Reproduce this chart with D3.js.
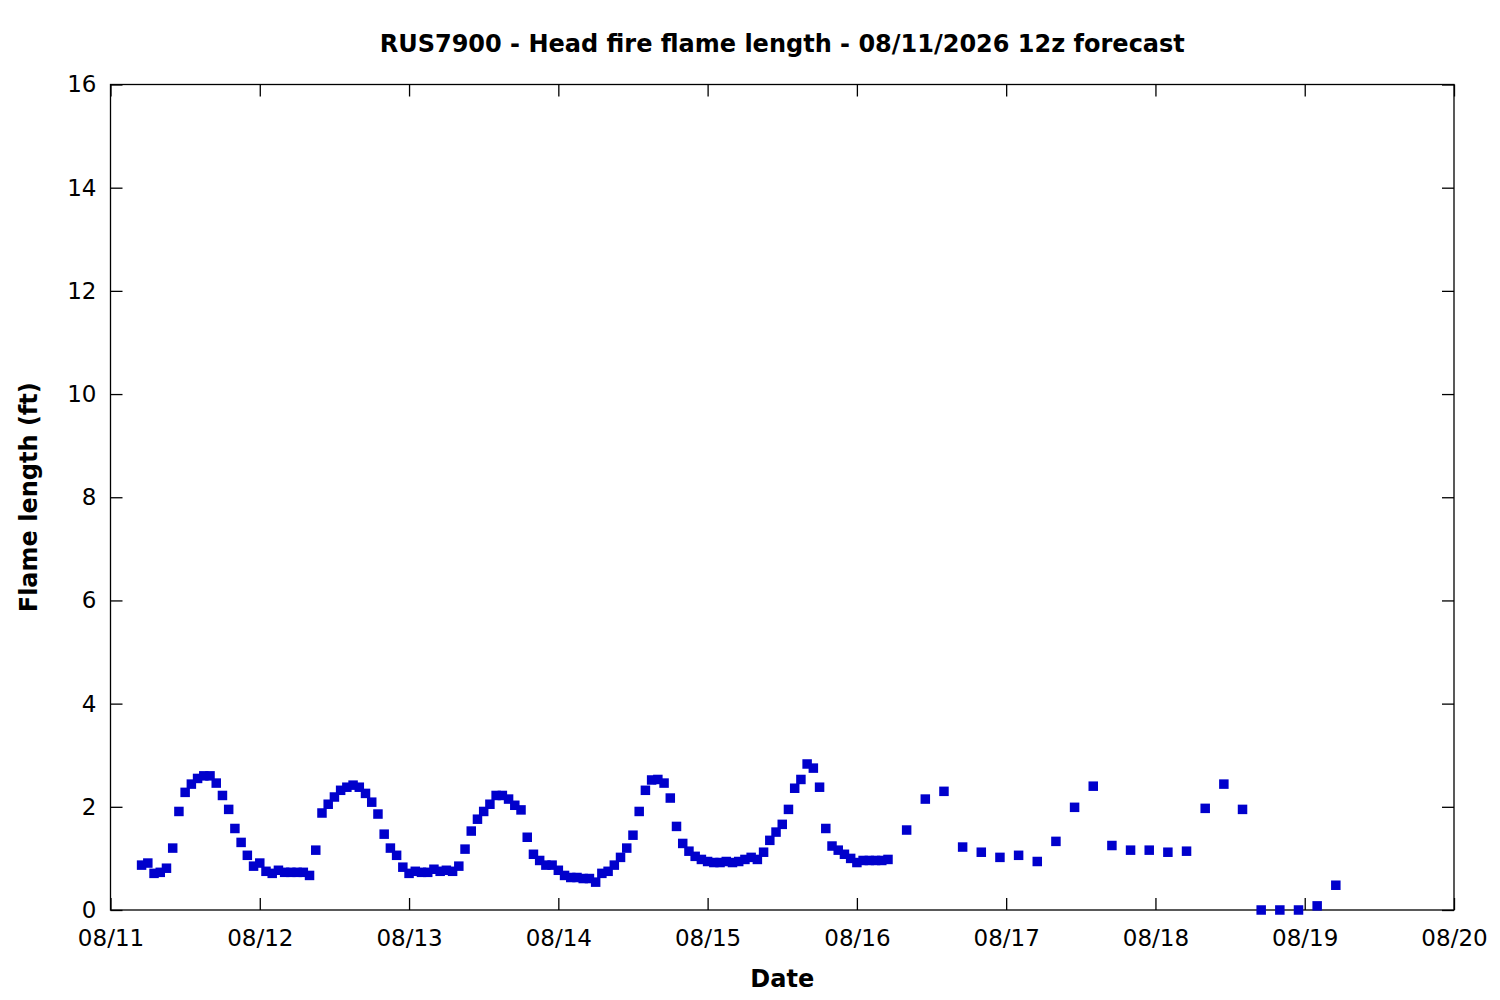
<!DOCTYPE html>
<html>
<head>
<meta charset="utf-8">
<script src="https://cdn.jsdelivr.net/npm/d3@7"></script>
<style>
  html, body { margin: 0; padding: 0; background: #fff; }
  svg { display: block; }
  text { font-family: "DejaVu Sans", sans-serif; fill: #000; }
</style>
</head>
<body>
<svg id="chart" width="1500" height="1000"></svg>
<script>
// ---- data ----
const titleText = "RUS7900 - Head fire flame length - 08/11/2026 12z forecast";
const xLabel = "Date";
const yLabel = "Flame length (ft)";

// hourly forecast, first point 08/11 05:00
const hourlyStart = "2026-08-11T05:00:00Z";
const hourlyValues = [
  0.87, 0.91, 0.71, 0.73, 0.81, 1.20, 1.91, 2.28, 2.44, 2.55,
  2.60, 2.60, 2.46, 2.22, 1.95, 1.58, 1.31, 1.06, 0.85, 0.91,
  0.75, 0.71, 0.77, 0.73, 0.73, 0.73, 0.73, 0.67, 1.16, 1.88,
  2.05, 2.19, 2.32, 2.38, 2.42, 2.38, 2.26, 2.09, 1.86, 1.47,
  1.20, 1.06, 0.83, 0.71, 0.75, 0.73, 0.73, 0.79, 0.75, 0.77,
  0.75, 0.85, 1.18, 1.53, 1.76, 1.91, 2.05, 2.22, 2.22, 2.15,
  2.03, 1.94, 1.41, 1.08, 0.96, 0.87, 0.87, 0.77, 0.67, 0.63,
  0.63, 0.61, 0.61, 0.54, 0.71, 0.75, 0.87, 1.02, 1.20, 1.45,
  1.91, 2.32, 2.52, 2.53, 2.46, 2.17, 1.62, 1.29, 1.14, 1.04,
  0.98, 0.94, 0.92, 0.92, 0.94, 0.92, 0.94, 0.98, 1.02, 0.98,
  1.12, 1.35, 1.51, 1.66, 1.95, 2.36, 2.53, 2.83, 2.75, 2.38,
  1.58, 1.24, 1.16, 1.08, 1.00, 0.92, 0.96, 0.96, 0.96, 0.96,
  0.98
];

// 3-hourly forecast, first point 08/16 08:00
const threeHourlyStart = "2026-08-16T08:00:00Z";
const threeHourlyValues = [
  1.55, 2.15, 2.30, 1.22, 1.12, 1.02, 1.06, 0.94, 1.33, 1.99,
  2.40, 1.25, 1.16, 1.16, 1.12, 1.14, 1.97, 2.44, 1.95, 0.00,
  0.00, 0.00, 0.08, 0.48
];

const xDomain = ["2026-08-11T00:00:00Z", "2026-08-20T00:00:00Z"];
const yDomain = [0, 16];
const yTicks = [0, 2, 4, 6, 8, 10, 12, 14, 16];

// ---- build points ----
const HOUR = 3600 * 1000;
const points = [];
const h0 = new Date(hourlyStart).getTime();
hourlyValues.forEach((v, i) => points.push({ t: new Date(h0 + i * HOUR), v }));
const t0 = new Date(threeHourlyStart).getTime();
threeHourlyValues.forEach((v, i) => points.push({ t: new Date(t0 + i * 3 * HOUR), v }));

// ---- layout ----
const L = 110.5, R = 1454, T = 84.5, B = 910;
const svg = d3.select("#chart");

const x = d3.scaleUtc().domain(xDomain.map(d => new Date(d))).range([L, R]);
const y = d3.scaleLinear().domain(yDomain).range([B, T]);
const xTicks = d3.utcDay.range(new Date(xDomain[0]), d3.utcDay.offset(new Date(xDomain[1]), 1));
const fmt = d3.utcFormat("%m/%d");

const FS = 23;     // tick labels
const FSB = 24;    // bold titles
const tick = 12;
const strokeW = 1.3;

// axes (ticks inward, mirrored)
const gLeft = svg.append("g").attr("transform", `translate(${L},0)`)
  .call(d3.axisLeft(y).tickValues(yTicks).tickSize(-tick).tickPadding(14).tickFormat(d3.format("d")));
const gRight = svg.append("g").attr("transform", `translate(${R},0)`)
  .call(d3.axisRight(y).tickValues(yTicks).tickSize(-tick).tickFormat(""));
const gBottom = svg.append("g").attr("transform", `translate(0,${B})`)
  .call(d3.axisBottom(x).tickValues(xTicks).tickSize(-tick).tickPadding(20).tickFormat(fmt));
const gTop = svg.append("g").attr("transform", `translate(0,${T})`)
  .call(d3.axisTop(x).tickValues(xTicks).tickSize(-tick).tickFormat(""));

[gLeft, gRight, gBottom, gTop].forEach(g => {
  g.select(".domain").remove();
  g.selectAll(".tick line").attr("stroke", "#000").attr("stroke-width", strokeW);
  g.selectAll(".tick text").attr("font-family", "DejaVu Sans").attr("font-size", FS).attr("fill", "#000");
});

// frame
svg.append("rect")
  .attr("x", L).attr("y", T).attr("width", R - L).attr("height", B - T)
  .attr("fill", "none").attr("stroke", "#000").attr("stroke-width", strokeW);

// points
const S = 9.5;
svg.append("g").selectAll("rect.pt").data(points).join("rect")
  .attr("class", "pt")
  .attr("x", d => x(d.t) - S / 2)
  .attr("y", d => y(d.v) - S / 2)
  .attr("width", S).attr("height", S)
  .attr("fill", "#0000cc");

// titles
svg.append("text")
  .attr("x", (L + R) / 2).attr("y", 51.5)
  .attr("text-anchor", "middle")
  .attr("font-size", FSB).attr("font-weight", "bold")
  .text(titleText);

svg.append("text")
  .attr("x", (L + R) / 2).attr("y", 987)
  .attr("text-anchor", "middle")
  .attr("font-size", FSB).attr("font-weight", "bold")
  .text(xLabel);

svg.append("text")
  .attr("transform", `translate(37,${(T + B) / 2}) rotate(-90)`)
  .attr("text-anchor", "middle")
  .attr("font-size", FSB).attr("font-weight", "bold")
  .text(yLabel);
</script>
</body>
</html>
